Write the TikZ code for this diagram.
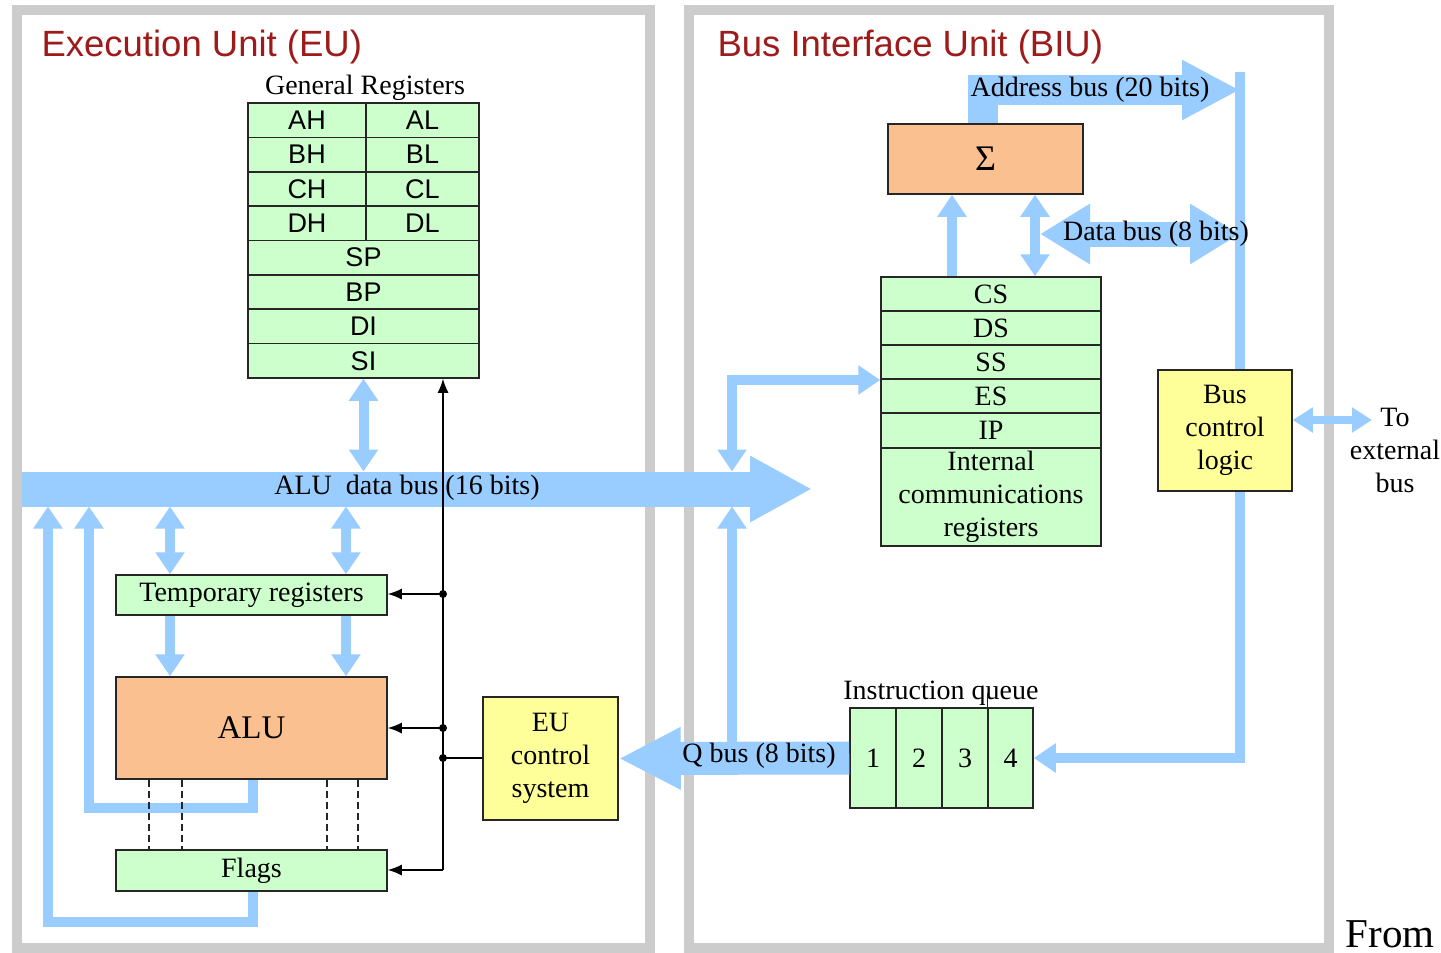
\documentclass[tikz,border=0pt]{standalone}
\usepackage{fontspec}
\setmainfont{Liberation Serif}
\newfontfamily\helv{Liberation Sans}
\usetikzlibrary{arrows,arrows.meta,positioning}
\definecolor{busblue}{HTML}{99CCFF}
\definecolor{regfill}{HTML}{CCFFCC}
\definecolor{alufill}{HTML}{FAC090}
\definecolor{ctlfill}{HTML}{FFFF99}
\definecolor{titlered}{HTML}{9E1B1B}
\definecolor{panelgray}{HTML}{CCCCCC}

\tikzset{
  box/.style={draw=black!85, line width=1.5pt, inner sep=0pt, align=center},
  reg/.style={box, fill=regfill},
  greg/.style={reg, font=\helv\fontsize{27}{30}\selectfont},
  alubox/.style={box, fill=alufill},
  ctlbox/.style={box, fill=ctlfill},
  title/.style={text=titlered, font=\helv\fontsize{36.5}{40}\selectfont},
  panel/.style={draw=panelgray, line width=10pt},
  bus/.style={draw=busblue, line width=10pt, >={Triangle[width=28pt,length=22pt]}},
  ctl/.style={draw=black, line width=1.5pt, >={Latex[length=14pt,width=11pt]}},
  flagline/.style={draw=black!85, line width=2pt, dash pattern=on 7pt off 4pt}
}

\begin{document}
\begin{tikzpicture}[x=1pt,y=-1pt]\tikzstyle{every node}=[font=\fontsize{28}{33}\selectfont]
\useasboundingbox (0,0) rectangle (1441,953);
\fill[white] (0,0) rectangle (1441,953);
% the two units
\draw[panel] (17,10) rectangle (650,948);
\draw[panel] (689,10) rectangle (1329,948);
\node[title, anchor=west] (EUtitle) at (38,47) {Execution Unit (EU)};
\node[title, anchor=west] (BIUtitle) at (714,47) {Bus Interface Unit (BIU)};
%general registers
\node (GR) at (365,88) {General Registers};
\node[greg, minimum width=118, minimum height=34.4] (AH) at (307,120.2) {AH}; \node[greg, minimum width=113, minimum height=34.4] (AL) at (422.5,120.2) {AL};
\node[greg, minimum width=118, minimum height=34.4] (BH) at (307,154.6) {BH}; \node[greg, minimum width=113, minimum height=34.4] (BL) at (422.5,154.6) {BL};
\node[greg, minimum width=118, minimum height=34.4] (CH) at (307,189) {CH}; \node[greg, minimum width=113, minimum height=34.4] (CL) at (422.5,189) {CL};
\node[greg, minimum width=118, minimum height=34.4] (DH) at (307,223.3) {DH}; \node[greg, minimum width=113, minimum height=34.4] (DL) at (422.5,223.3) {DL};
\node[greg, minimum width=231, minimum height=34.4] (SP) at (363.5,257.7) {SP};
\node[greg, minimum width=231, minimum height=34.4] (BP) at (363.5,292.1) {BP};
\node[greg, minimum width=231, minimum height=34.4] (DI) at (363.5,326.4) {DI};
\node[greg, minimum width=231, minimum height=34.4] (SI) at (363.5,360.8) {SI};
%temporary registers, ALU, flags
\node[reg, minimum width=271, minimum height=40] (Temp) at (251.5,595) {Temporary registers};
\node[alubox, minimum width=271, minimum height=102, font=\fontsize{33}{36}\selectfont] (ALU) at (251.5,728) {ALU};
\node[reg, minimum width=271, minimum height=41] (Flags) at (251.5,870.5) {Flags};
\node[ctlbox, minimum width=135, minimum height=123] (EUC) at (550.5,758.5) {EU\\control\\system};
%segment registers
\node[alubox, minimum width=195, minimum height=70, font=\fontsize{36}{38}\selectfont] (SUM) at (985.5,159) {Σ};
\node[reg, minimum width=220, minimum height=34] (CS) at (991,294) {CS};
\node[reg, minimum width=220, minimum height=34] (DS) at (991,328) {DS};
\node[reg, minimum width=220, minimum height=34] (SS) at (991,362) {SS};
\node[reg, minimum width=220, minimum height=34] (ES) at (991,396) {ES};
\node[reg, minimum width=220, minimum height=35] (IP) at (991,430.5) {IP};
\node[reg, minimum width=220, minimum height=98] (ICR) at (991,497) {Internal\\communications\\registers};
\node[ctlbox, minimum width=134, minimum height=121] (BCL) at (1225,430.5) {Bus\\control\\logic};
%instruction queue
\node (IQ) at (941,693) {Instruction queue};
\node[reg, minimum width=46, minimum height=100] (Q1) at (873,758) {1};
\node[reg, minimum width=46, minimum height=100] (Q2) at (919,758) {2};
\node[reg, minimum width=46, minimum height=100] (Q3) at (965,758) {3};
\node[reg, minimum width=45, minimum height=100] (Q4) at (1010.5,758) {4};
\draw[black!85, line width=1.5pt] (Q4.north west) -- ++(0,-14);
\node[align=center] (ext) at (1395,450) {To\\external\\bus};
\node[anchor=base, font=\fontsize{41}{44}\selectfont] (from) at (1390,947) {From};
% ALU data bus
\coordinate (busL) at (22,489); \coordinate (busR) at (812,489);
\coordinate (busT) at (0,471.5); \coordinate (busB) at (0,506.5);
\draw[bus, line width=35pt, >={Triangle[width=62pt,length=62pt]}, ->] (busL) -- (busR);
\draw[bus,<->] (SI.south) -- (SI.south |- busT);
\coordinate (c1) at (170,0); \coordinate (c2) at (346,0);
\draw[bus,<->] (c1 |- busB) -- (c1 |- Temp.north); \draw[bus,<->] (c2 |- busB) -- (c2 |- Temp.north);
\draw[bus,->] (c1 |- Temp.south) -- (c1 |- ALU.north); \draw[bus,->] (c2 |- Temp.south) -- (c2 |- ALU.north);
% results back onto the bus
\coordinate (lp) at (253,808); \coordinate (lp2) at (253,922);
\coordinate (lpi) at (89,0); \coordinate (lpo) at (48,0);
\draw[bus,->] (lp |- ALU.south) -- (lp) -- (lpi |- lp) -- (lpi |- busB);
\draw[bus,->] (lp2 |- Flags.south) -- (lp2) -- (lpo |- lp2) -- (lpo |- busB);
% Q bus
\draw[bus, line width=33pt, >={Triangle[width=58pt,length=62pt]}, ->] (Q1.west) -- (EUC.east);
\coordinate (qx) at (732,380);
\draw[bus,<->] (qx |- busT) -- (qx) -- (qx -| CS.west);
\draw[bus,->] (qx |- Q1.west) -- (qx |- busB);
% address and data buses
\coordinate (sx1) at (952,0); \coordinate (sx2) at (1035,0);
\draw[bus,->] (sx1 |- CS.north) -- (sx1 |- SUM.south);
\draw[bus,<->] (sx2 |- CS.north) -- (sx2 |- SUM.south);
\coordinate (rv) at (1240,72);
\draw[bus] (rv) -- (rv |- BCL.north);
\draw[bus,->] (rv |- BCL.south) -- (rv |- Q4.east) -- (Q4.east);
\coordinate (ab) at (983,90);
\draw[bus, line width=30pt, >={Triangle[width=56pt,length=58pt]}, ->] (ab |- SUM.north) -- (ab) -- (ab -| rv);
\coordinate (db) at (1040,234);
\draw[bus, line width=25pt, >={Triangle[width=57pt,length=50pt]}, <->] (db) -- (db -| rv);
\coordinate (xt) at (1372,420);
\draw[bus, line width=8pt, >={Triangle[width=24pt,length=20pt]}, <->] (xt -| BCL.east) -- (xt);
% bus labels
\node (ALUbus) at (407,488) {ALU~\ data bus (16 bits)};
\node (Qbus) at (759,756) {Q bus (8 bits)};
\node (Abus) at (1090,90) {Address bus (20 bits)};
\node (Dbus) at (1156,234) {Data bus (8 bits)};
% EU control lines
\coordinate (cb) at (443,870);
\coordinate (j1) at (443,594); \coordinate (j2) at (443,728); \coordinate (j3) at (443,758);
\draw[ctl,->] (cb) -- (cb |- SI.south);
\draw[ctl,->] (cb) -- (cb -| Flags.east);
\draw[ctl,->] (j1) -- (j1 -| Temp.east);
\draw[ctl,->] (j2) -- (j2 -| ALU.east);
\draw[ctl] (j3) -- (j3 -| EUC.west);
\foreach \j in {j1,j2,j3} \fill (\j) circle (4pt);
% ALU to flags
\foreach \s in {34,67,212,243} \draw[flagline] ([xshift=\s pt]ALU.south west) -- ([xshift=\s pt]Flags.north west);
\end{tikzpicture}
\end{document}
